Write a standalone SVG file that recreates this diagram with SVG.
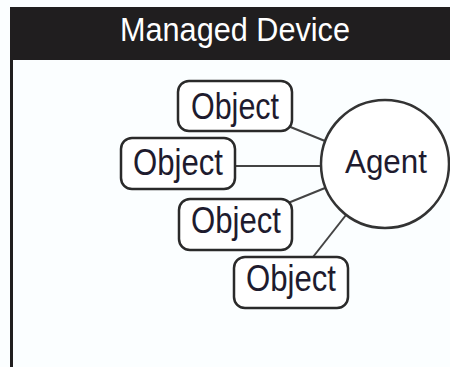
<svg xmlns="http://www.w3.org/2000/svg" width="450" height="367" viewBox="0 0 450 367">
  <style>
    .obj rect { fill: #ffffff; stroke: #2a2a2a; stroke-width: 2.5; }
    .obj text, .agent text { font-family: "Liberation Sans", Arial, sans-serif; font-size: 37px; fill: #1e1b2e; text-anchor: middle; }
    .agent text { font-size: 33px; }
    .agent circle { fill: #ffffff; stroke: #333333; stroke-width: 2.5; }
    .links line { stroke: #444444; stroke-width: 2; }
    .title { font-family: "Liberation Sans", Arial, sans-serif; font-size: 33px; fill: #ffffff; text-anchor: middle; }
  </style>
  <rect x="0" y="0" width="450" height="367" fill="#fbfeff"/>

  <!-- device frame: title bar and left edge -->
  <g id="frame">
    <rect x="10" y="7" width="440" height="53" fill="#201e1f"/>
    <rect x="10" y="60" width="3" height="307" fill="#201e1f"/>
    <text class="title" x="235" y="41" textLength="230" lengthAdjust="spacingAndGlyphs">Managed Device</text>
  </g>

  <!-- connectors between objects and the agent -->
  <g id="links" class="links">
    <line x1="288" y1="126" x2="325" y2="141"/>
    <line x1="235" y1="166" x2="321" y2="166"/>
    <line x1="288" y1="203" x2="325" y2="188"/>
    <line x1="313" y1="257" x2="346" y2="215"/>
  </g>

  <g id="agent" class="agent">
    <circle cx="385" cy="164" r="64"/>
    <text x="386" y="173" textLength="82" lengthAdjust="spacingAndGlyphs">Agent</text>
  </g>

  <g id="object1" class="obj">
    <rect x="178" y="81" width="114" height="50" rx="11"/>
    <text x="235" y="119" textLength="88" lengthAdjust="spacingAndGlyphs">Object</text>
  </g>
  <g id="object2" class="obj">
    <rect x="121" y="138" width="114" height="51" rx="11"/>
    <text x="178" y="175" textLength="90" lengthAdjust="spacingAndGlyphs">Object</text>
  </g>
  <g id="object3" class="obj">
    <rect x="179" y="199" width="113" height="51" rx="11"/>
    <text x="236" y="233" textLength="90" lengthAdjust="spacingAndGlyphs">Object</text>
  </g>
  <g id="object4" class="obj">
    <rect x="234" y="257" width="114" height="51" rx="11"/>
    <text x="291" y="291" textLength="90" lengthAdjust="spacingAndGlyphs">Object</text>
  </g>
</svg>
